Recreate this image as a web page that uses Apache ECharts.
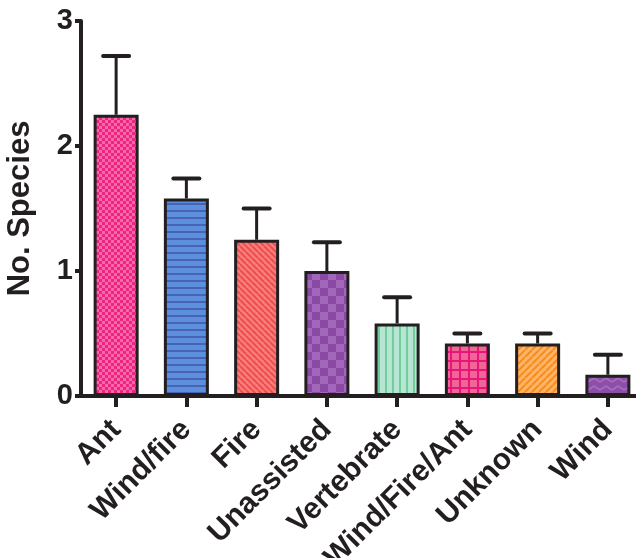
<!DOCTYPE html>
<html>
<head>
<meta charset="utf-8">
<script src="https://cdn.jsdelivr.net/npm/echarts@6/dist/echarts.min.js"></script>
<style>
  html, body { margin: 0; padding: 0; background: #ffffff; }
  #chart { width: 636px; height: 558px; }
</style>
</head>
<body>
<div id="chart"></div>
<script>
// Dispersal mode categories and mean number of species (with upper SE)
const categories = ['Ant', 'Wind/fire', 'Fire', 'Unassisted', 'Vertebrate', 'Wind/Fire/Ant', 'Unknown', 'Wind'];
const speciesMean = [2.25, 1.58, 1.25, 1.0, 0.58, 0.42, 0.42, 0.17];
const speciesErr = [0.47, 0.16, 0.25, 0.23, 0.21, 0.08, 0.08, 0.16];
const yTicks = [0, 1, 2, 3];

const INK = '#231f20';
const FONT = '"Liberation Sans", Arial, Helvetica, sans-serif';

// Small repeating tiles used as bar fills
function tile(w, h, bg, draw) {
  const c = document.createElement('canvas');
  c.width = w; c.height = h;
  const g = c.getContext('2d');
  g.fillStyle = bg;
  g.fillRect(0, 0, w, h);
  draw(g, w, h);
  return c;
}
function checker(size, a, b) {
  return tile(size * 2, size * 2, a, g => {
    g.fillStyle = b;
    g.fillRect(0, 0, size, size);
    g.fillRect(size, size, size, size);
  });
}
function diagonal(step, bg, fg, lw, down) {
  return tile(step, step, bg, g => {
    g.strokeStyle = fg; g.lineWidth = lw;
    g.beginPath();
    for (let k = -1; k <= 1; k++) {
      if (down) { g.moveTo(k * step, 0); g.lineTo(k * step + step, step); }
      else { g.moveTo(k * step, step); g.lineTo(k * step + step, 0); }
    }
    g.stroke();
  });
}
const fills = [
  checker(3, '#f36aa5', '#ec2585'),
  tile(7, 7, '#5c8fdc', g => { g.fillStyle = '#4862b5'; g.fillRect(0, 0, 7, 2); }),
  diagonal(6, '#f97c77', '#ec4a4e', 1.8, true),
  checker(8, '#a266bb', '#8a4aa4'),
  tile(7, 7, '#b6e6d3', g => { g.fillStyle = '#72cc9c'; g.fillRect(0, 0, 2, 7); }),
  tile(9, 9, '#f06795', g => { g.fillStyle = '#e8157b'; g.fillRect(0, 0, 9, 2); g.fillRect(0, 0, 2, 9); }),
  diagonal(7, '#ffb468', '#f78d1c', 2, false),
  tile(12, 8, '#8c4ea6', g => {
    g.strokeStyle = '#a56ec0'; g.lineWidth = 1.6;
    g.beginPath(); g.moveTo(0, 6); g.lineTo(6, 2); g.lineTo(12, 6); g.stroke();
  })
];

const chart = echarts.init(document.getElementById('chart'), null, { renderer: 'canvas' });

chart.setOption({
  animation: false,
  backgroundColor: '#ffffff',
  grid: { left: 81, top: 21, width: 562, height: 375, containLabel: false, outerBoundsMode: 'none' },
  xAxis: {
    type: 'category',
    data: categories,
    axisLine: { show: true, lineStyle: { color: INK, width: 4 } },
    axisTick: { show: true, alignWithLabel: true, length: 11, lineStyle: { color: INK, width: 4 } },
    axisLabel: {
      rotate: 45, interval: 0, margin: 29,
      color: INK, fontFamily: FONT, fontWeight: 'bold', fontSize: 30
    },
    splitLine: { show: false }
  },
  yAxis: {
    type: 'value',
    min: yTicks[0],
    max: yTicks[yTicks.length - 1],
    interval: 1,
    name: 'No. Species',
    nameLocation: 'middle',
    nameGap: 45,
    nameTextStyle: { color: INK, fontFamily: FONT, fontWeight: 'bold', fontSize: 31 },
    axisLine: { show: true, lineStyle: { color: INK, width: 4 } },
    axisTick: { show: true, length: 6, lineStyle: { color: INK, width: 4 } },
    axisLabel: { color: INK, fontFamily: FONT, fontWeight: 'bold', fontSize: 29, margin: 8 },
    splitLine: { show: false }
  },
  series: [
    {
      type: 'bar',
      barWidth: 45,
      data: speciesMean.map((v, i) => ({
        value: v,
        itemStyle: {
          color: { image: fills[i], repeat: 'repeat' },
          borderColor: INK,
          borderWidth: 3
        }
      })),
      z: 2
    },
    {
      type: 'custom',
      z: 3,
      data: speciesMean.map((v, i) => [i, v, speciesErr[i]]),
      renderItem: function (params, api) {
        const i = api.value(0);
        const base = api.coord([i, api.value(1)]);
        const top = api.coord([i, api.value(1) + api.value(2)]);
        return {
          type: 'group',
          children: [
            { type: 'line', shape: { x1: base[0], y1: base[1], x2: base[0], y2: top[1] },
              style: { stroke: INK, lineWidth: 3 } },
            { type: 'line', shape: { x1: top[0] - 13, y1: top[1], x2: top[0] + 13, y2: top[1] },
              style: { stroke: INK, lineWidth: 4, lineCap: 'round' } }
          ]
        };
      }
    }
  ]
});
</script>
</body>
</html>
